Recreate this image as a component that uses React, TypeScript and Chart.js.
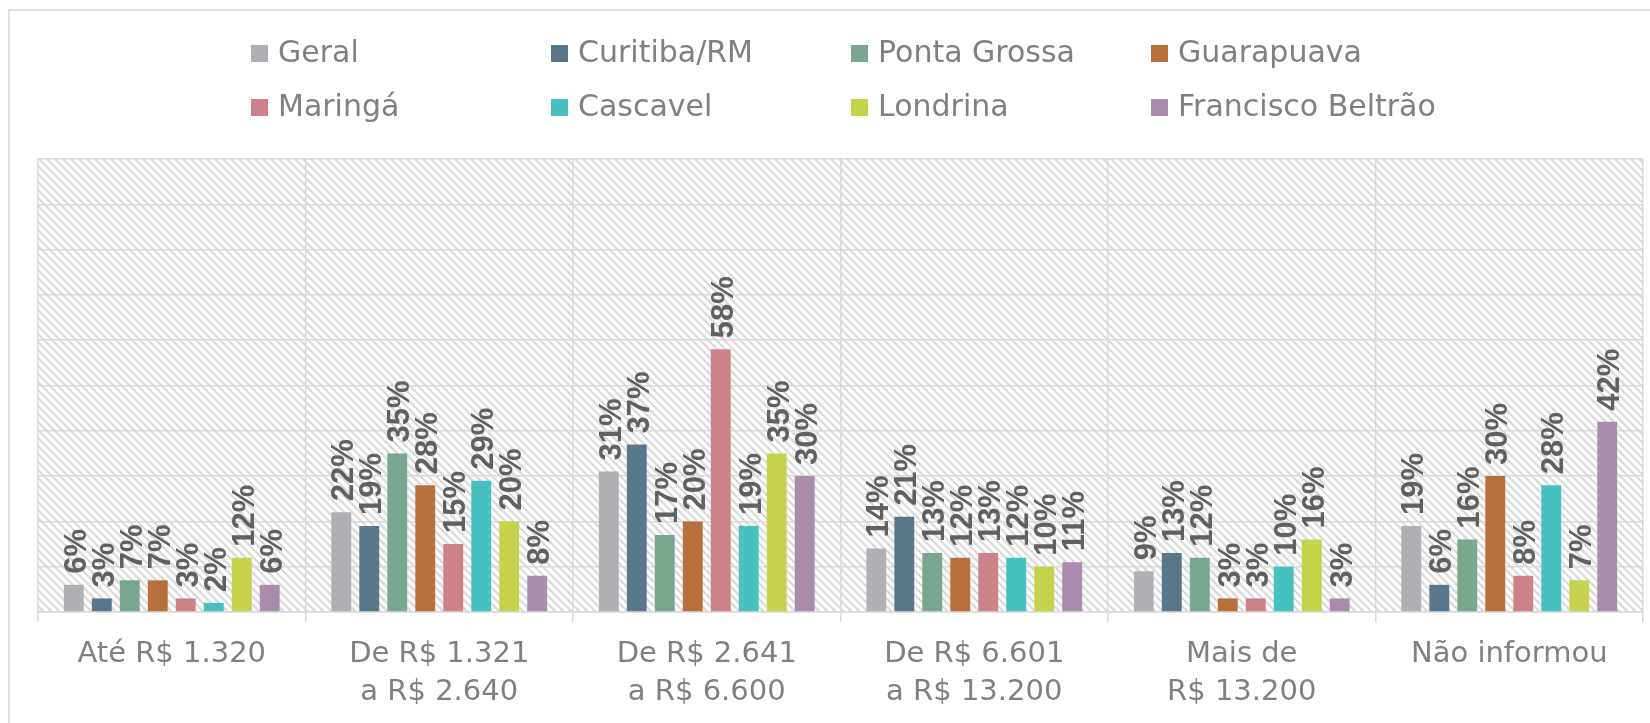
import React, { useEffect, useRef } from "react";
import { Chart, registerables } from "chart.js";

Chart.register(...registerables);

const categories: string[][] = [
  ["Até R$ 1.320"],
  ["De R$ 1.321", "a R$ 2.640"],
  ["De R$ 2.641", "a R$ 6.600"],
  ["De R$ 6.601", "a R$ 13.200"],
  ["Mais de", "R$ 13.200"],
  ["Não informou"],
];

const seriesNames = [
  "Geral",
  "Curitiba/RM",
  "Ponta Grossa",
  "Guarapuava",
  "Maringá",
  "Cascavel",
  "Londrina",
  "Francisco Beltrão",
];

const seriesColors = [
  "#afb0b4",
  "#5a768b",
  "#78a68e",
  "#b86f3b",
  "#cd8289",
  "#47c1c0",
  "#c7d24c",
  "#a98bab",
];

const geral = [6, 22, 31, 14, 9, 19];
const curitiba = [3, 19, 37, 21, 13, 6];
const pontaGrossa = [7, 35, 17, 13, 12, 16];
const guarapuava = [7, 28, 20, 12, 3, 30];
const maringa = [3, 15, 58, 13, 3, 8];
const cascavel = [2, 29, 19, 12, 10, 28];
const londrina = [12, 20, 35, 10, 16, 7];
const francisco = [6, 8, 30, 11, 3, 42];

const seriesValues = [geral, curitiba, pontaGrossa, guarapuava, maringa, cascavel, londrina, francisco];

const yMin = 0;
const yMax = 100;
const yStep = 10;

const TEXT_GRAY = "#808080";
const LABEL_GRAY = "#606060";
const GRID = "#d9d9d9";

const hatchPlugin = {
  id: "hatch",
  beforeDraw(chart: any) {
    const { ctx, chartArea } = chart;
    const tile = document.createElement("canvas");
    tile.width = 8;
    tile.height = 8;
    const t = tile.getContext("2d")!;
    t.fillStyle = "#ffffff";
    t.fillRect(0, 0, 8, 8);
    t.strokeStyle = "#d9d9d9";
    t.lineWidth = 2.2;
    t.beginPath();
    t.moveTo(-2, -2);
    t.lineTo(10, 10);
    t.moveTo(-6, 2);
    t.lineTo(2, 10);
    t.moveTo(6, -2);
    t.lineTo(10, 2);
    t.stroke();
    const pattern = ctx.createPattern(tile, "repeat");
    ctx.save();
    ctx.fillStyle = pattern;
    ctx.fillRect(chartArea.left, chartArea.top, chartArea.right - chartArea.left, chartArea.bottom - chartArea.top);
    ctx.restore();
  },
};

const legendPlugin = {
  id: "customLegend",
  afterDraw(chart: any) {
    const { ctx } = chart;
    const colX = [251, 551, 851, 1151];
    const rowY = [53.5, 107.5];
    ctx.save();
    ctx.font = "30px 'DejaVu Sans'";
    ctx.textBaseline = "middle";
    ctx.textAlign = "left";
    chart.data.datasets.forEach((ds: any, i: number) => {
      const x = colX[i % 4];
      const y = rowY[Math.floor(i / 4)];
      ctx.fillStyle = ds.backgroundColor;
      ctx.fillRect(x, y - 8.5, 17, 17);
      ctx.fillStyle = TEXT_GRAY;
      ctx.fillText(ds.label, x + 27, y + 1);
    });
    ctx.restore();
  },
};

const valueLabelPlugin = {
  id: "valueLabels",
  afterDatasetsDraw(chart: any) {
    const { ctx } = chart;
    ctx.save();
    ctx.font = "bold 31px 'Liberation Sans Narrow', 'Liberation Sans'";
    ctx.fillStyle = LABEL_GRAY;
    ctx.textAlign = "left";
    ctx.textBaseline = "alphabetic";
    const capH = 22;
    chart.data.datasets.forEach((ds: any, di: number) => {
      const meta = chart.getDatasetMeta(di);
      meta.data.forEach((bar: any, i: number) => {
        const v = ds.data[i];
        ctx.save();
        ctx.translate(bar.x + capH / 2 + 1, bar.y - 11);
        ctx.rotate(-Math.PI / 2);
        ctx.fillText(Math.round(v) + "%", 0, 0);
        ctx.restore();
      });
    });
    ctx.restore();
  },
};

export default function App() {
  const ref = useRef<HTMLCanvasElement | null>(null);

  useEffect(() => {
    if (!ref.current) return;
    const chart = new Chart(ref.current, {
      type: "bar",
      data: {
        labels: categories,
        datasets: seriesNames.map((name, i) => ({
          label: name,
          data: seriesValues[i],
          backgroundColor: seriesColors[i],
          borderWidth: 0,
          categoryPercentage: 0.837,
          barPercentage: 0.71,
        })),
      },
      options: {
        animation: false,
        responsive: false,
        maintainAspectRatio: false,
        devicePixelRatio: 1,
        layout: { padding: { left: 38, top: 159, right: 7, bottom: 0 } },
        plugins: {
          legend: { display: false },
          tooltip: { enabled: false },
          title: { display: false },
        },
        scales: {
          x: {
            grid: {
              color: GRID,
              lineWidth: 1.5,
              offset: true,
              drawTicks: true,
              tickLength: 10,
            },
            border: { display: true, color: GRID, width: 1.5 },
            ticks: {
              color: TEXT_GRAY,
              font: { family: "'DejaVu Sans'", size: 29, lineHeight: 1.31 },
              padding: 13,
              maxRotation: 0,
              minRotation: 0,
              autoSkip: false,
            },
            afterFit(scale: any) {
              scale.height = 111;
            },
          },
          y: {
            min: yMin,
            max: yMax,
            ticks: { stepSize: yStep, display: false },
            grid: { color: GRID, lineWidth: 1.5, drawTicks: false },
            border: { display: false },
            afterFit(scale: any) {
              scale.width = 0;
            },
          },
        },
      },
      plugins: [hatchPlugin, legendPlugin, valueLabelPlugin],
    });
    return () => chart.destroy();
  }, []);

  return (
    <div
      style={{
        position: "fixed",
        left: 0,
        top: 0,
        width: 1650,
        height: 723,
        overflow: "hidden",
        background: "#ffffff",
      }}
    >
      <div
        style={{
          position: "absolute",
          left: 8,
          top: 9,
          width: 1700,
          height: 800,
          border: "2px solid #e0e0e0",
          boxSizing: "border-box",
        }}
      />
      <canvas ref={ref} width={1650} height={723} style={{ position: "absolute", left: 0, top: 0, width: 1650, height: 723 }} />
    </div>
  );
}
